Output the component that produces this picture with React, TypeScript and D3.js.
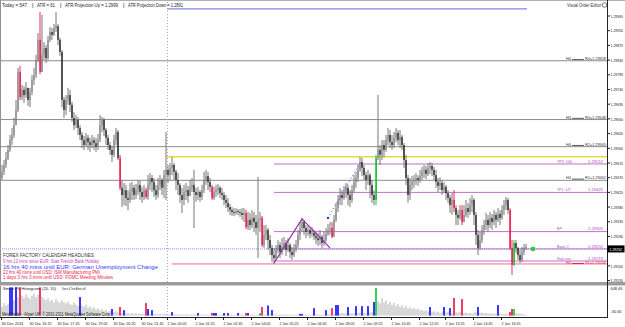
import React from "react";
import * as d3 from "d3";

// ---------- DATA (prices in points above 1.29000) ----------
const highs = [
  509,524,549,570,601,622,653,708,806,812,
  754,751,763,745,745,784,806,846,913,977,
  968,885,876,904,931,928,941,977,941,898,
  861,717,723,745,739,702,671,662,656,631,
  610,598,607,601,592,601,595,592,604,662,
  656,653,622,601,579,567,601,622,616,540,
  463,454,448,432,454,457,448,451,463,460,
  442,448,439,478,484,478,469,448,469,478,
  469,494,610,509,515,533,515,494,484,454,
  439,448,454,445,463,469,494,439,442,432,
  448,488,494,488,469,448,442,448,451,445,
  439,426,417,408,390,380,377,377,374,374,
  377,377,371,365,362,371,365,356,472,365,
  353,325,325,316,295,264,255,264,279,273,
  285,289,279,285,270,258,267,279,310,334,
  347,341,325,322,316,319,310,304,301,310,
  295,304,316,328,334,334,356,393,417,439,
  432,445,454,448,432,448,478,488,509,533,
  530,509,488,494,484,463,432,540,723,570,
  585,585,601,622,616,601,610,622,616,616,
  601,576,540,478,469,475,478,484,478,494,
  503,509,506,515,518,515,503,494,469,472,
  463,457,448,432,417,423,432,386,371,386,
  386,386,402,393,408,417,408,365,310,304,
  325,341,362,356,365,359,371,365,377,371,
  386,402,411,408,377,279,279,279,258,249,
  258,267,267
];
const lows = [
  463,478,500,524,549,570,592,631,671,708,
  708,699,714,690,686,723,754,775,824,787,
  794,830,821,830,885,892,904,916,876,843,
  686,653,662,693,671,641,616,622,601,585,
  561,555,567,555,549,561,555,549,555,579,
  610,598,570,555,540,518,533,570,524,432,
  380,386,383,371,393,402,402,405,417,402,
  393,402,405,402,432,426,411,402,408,432,
  417,408,402,454,463,478,463,432,417,393,
  362,386,402,393,417,426,316,396,402,396,
  402,423,448,432,426,402,402,411,417,408,
  402,386,377,365,356,353,353,356,356,350,
  341,334,313,310,310,316,304,295,224,304,
  258,255,279,249,233,212,206,218,240,224,
  233,249,230,243,224,218,227,243,255,279,
  304,295,285,292,285,289,279,267,261,264,
  255,261,273,292,295,285,292,334,365,386,
  386,402,408,386,380,393,423,439,457,488,
  475,463,432,448,408,393,386,386,524,509,
  524,533,549,570,561,555,561,579,570,561,
  555,500,448,393,402,432,439,448,445,454,
  463,469,466,475,481,475,463,439,426,432,
  417,423,402,393,362,356,365,325,325,341,
  325,334,350,347,356,365,325,264,233,249,
  270,295,310,304,316,310,325,316,334,325,
  341,356,371,359,249,172,200,240,218,209,
  212,233,249
];
const closes = [
  488,509,530,555,585,601,631,677,794,717,
  739,723,745,708,732,769,784,830,892,794,
  846,867,836,892,916,907,928,934,892,855,
  708,677,708,723,693,653,631,647,622,601,
  585,570,592,579,570,585,576,564,585,631,
  647,616,592,570,555,540,585,610,530,439,
  417,432,408,402,426,439,417,432,448,426,
  411,432,411,448,469,457,432,417,448,463,
  439,478,494,478,500,509,488,463,448,417,
  402,426,432,414,439,448,426,417,426,411,
  432,463,475,457,442,408,426,432,439,423,
  417,402,393,380,371,365,362,368,365,362,
  356,362,319,341,325,347,334,316,341,347,
  264,295,310,279,255,233,224,249,264,243,
  258,270,249,264,243,233,249,264,295,316,
  334,316,304,310,298,301,292,285,279,289,
  270,279,298,310,316,289,341,377,402,417,
  408,426,439,417,402,432,457,469,494,518,
  500,478,463,478,448,417,402,530,555,540,
  570,555,585,601,579,570,592,607,585,595,
  570,524,469,417,448,457,463,469,463,475,
  488,494,481,500,506,494,478,457,445,454,
  432,442,423,408,386,402,377,356,347,371,
  334,356,377,365,386,402,356,295,255,279,
  310,325,341,325,347,334,356,341,359,347,
  371,386,402,371,255,203,270,255,233,218,
  243,255,258
];
const firstOpen = 470;
const redCandles = [9, 19, 59, 72, 105, 122, 130, 165, 226, 230, 254, 255];
const greenCandles = [187, 256];

const volumes = [
  200,285,230,260,640,640,350,640,420,640,
  450,400,480,420,380,450,500,420,470,640,
  430,380,350,400,330,360,300,380,320,290,
  350,300,280,320,260,240,300,250,220,420,
  230,200,250,180,210,160,190,140,170,120,
  150,100,130,90,110,150,80,100,70,195,
  60,125,50,70,40,60,45,55,40,50,
  35,45,285,150,40,125,35,45,30,40,
  30,40,35,25,30,80,25,30,20,30,
  25,20,30,25,20,30,25,20,60,20,
  25,20,30,20,25,60,60,60,20,25,
  20,60,25,60,20,25,20,15,60,20,
  25,20,60,60,20,25,20,15,20,60,
  195,30,25,230,30,125,25,30,20,25,
  20,25,30,20,25,20,15,20,25,40,
  40,20,25,20,15,25,170,30,25,20,
  25,30,125,40,35,170,45,240,240,50,
  60,55,45,195,60,50,55,215,60,70,
  215,65,55,215,70,80,310,625,330,280,
  400,300,350,260,310,240,290,220,260,200,
  240,180,220,160,190,150,170,140,160,120,
  130,100,120,90,195,80,100,70,90,60,
  80,195,70,90,170,60,400,80,70,90,
  375,60,70,50,60,45,70,90,195,60,
  70,50,60,45,55,40,50,35,240,45,
  40,35,50,30,80,150,150,60,40,50,
  35,30,20
];
const histBlue = [4,5,7,39,55,61,73,75,85,98,106,107,111,113,118,123,133,135,149,150,156,162,167,168,173,177,180,183,186,214,221,224,238,248];
const histRed = [9, 19, 59, 72, 105, 122, 130, 165, 226, 230, 254, 255];
const histGreen = [129, 187, 256];

const priceTicks = [1.29965,1.2992,1.29875,1.2983,1.29785,1.2974,1.29695,1.2965,1.29605,1.2956,1.29515,1.2947,1.29425,1.2938,1.29335,1.2929,1.29245,1.292,1.29155];
const timeLabels = ["30 Dec 2011","30 Dec 16:25","30 Dec 17:45","30 Dec 19:05","30 Dec 20:25","30 Dec 21:45","2 Jan 00:05","2 Jan 01:25","2 Jan 02:45","2 Jan 04:05","2 Jan 05:25","2 Jan 06:45","2 Jan 08:05","2 Jan 09:25","2 Jan 10:45","2 Jan 12:05","2 Jan 13:25","2 Jan 14:45","2 Jan 16:05"];
const timeIdx = [0,14,28,42,56,70,83,97,111,125,139,153,167,181,195,209,222,236,250];

const pivotNames = ["R4", "R3", "R2", "R1"];
const pivotPrices = [1.29828, 1.29648, 1.29565, 1.29462];
const tradeNames = ["TP2: 100", "TP1: 127", "EP", "Base C", "Stop Loss"];
const tradePrices = [1.29512, 1.29425, 1.29305, 1.29252, 1.29215];
const s1Price = 1.29206;
const yellowPrice = 1.29534;
const atrUpPrice = 1.29987;
const bidPrice = 1.29252;
const zigzag: [number, number][] = [[136, 1.29209], [150, 1.29344], [164, 1.29255]];
const trendDots: [number, number][] = [[163, 1.29347], [179, 1.29515]];

const headerParts = ["Today = 547", "|", "ATR = 61", "|", "ATR Projection Up = 1.2999", "|", "ATR Projection Down = 1.2891"];
const ffLines = [
  "FOREX FACTORY CALENDAR HEADLINES:",
  "9 hrs 12 mins since EUR: Start French Bank Holiday",
  "16 hrs 40 mins until EUR: German Unemployment Change",
  "22 hrs 40 mins until USD: ISM Manufacturing PMI",
  "1 days 3 hrs 3 mins until USD: FOMC Meeting Minutes",
];
const volTop = 648.65;
const volBottom = -30.65;

// ---------- STYLE ----------
const FONT = "Liberation Sans, Arial, sans-serif";
const headerX = [2, 32, 37, 60, 65, 123, 128];
const headerLen = [25, 1.5, 18, 1.5, 53, 1.5, 55];
const ffColors = ["#333", "#c03cc8", "#3838ff", "#e8204f", "#e8204f"];
const ffLen = [92, 96, 155, 97, 110];
const ffY = [257, 263, 268.5, 273.5, 279];
const tradeNameLen = [15, 14, 5, 12, 14];

export default function App() {
  const N = closes.length;
  const x = d3.scaleLinear().domain([0, N - 1]).range([2, 2 + 2 * (N - 1)]);
  const y = d3.scaleLinear().domain([1.29155, 1.29965]).range([280.6, 16]);
  const vy = d3.scaleLinear().domain([volBottom, volTop]).range([317, 287]);
  const P = (v: number) => 1.29 + v / 1e5;
  const AX = 607.5;
  const fmt = d3.format(".5f");
  const redSet = new Set(redCandles);
  const greenSet = new Set(greenCandles);
  const blueH = new Set(histBlue);
  const redH = new Set(histRed);
  const greenH = new Set(histGreen);

  const candles = closes.map((c, i) => {
    const o = i === 0 ? firstOpen : closes[i - 1];
    return { i, o: P(o), c: P(c), h: P(Math.max(highs[i], o, c)), l: P(Math.min(lows[i], o, c)) };
  });

  const zz = d3.line<[number, number]>().x(d => x(d[0])).y(d => y(d[1]));
  const visibleTicks = priceTicks.filter(p => Math.abs(y(p) - y(bidPrice)) > 5);

  return (
    <svg width={625} height={327} style={{ position: "fixed", left: 0, top: 0, background: "#fff" }} fontFamily={FONT}>
      <rect x={0} y={0} width={625} height={327} fill="#fff" />
      {/* frame */}
      <line x1={0} x2={625} y1={0.5} y2={0.5} stroke="#b0b0b0" />
      <line x1={0.5} x2={0.5} y1={0} y2={317} stroke="#909090" />

      {/* pivot lines */}
      {pivotPrices.map((p, k) => (
        <line key={"pv" + k} x1={0} x2={AX} y1={y(p)} y2={y(p)} stroke="#8c8c8c" strokeWidth={1} />
      ))}
      {/* yellow */}
      <line x1={x(83) - 1} x2={AX} y1={y(yellowPrice)} y2={y(yellowPrice)} stroke="#e4dc3c" strokeWidth={1.6} />
      {/* trade levels */}
      {tradePrices.map((p, k) => (
        <line key={"tl" + k} x1={x(136)} x2={AX} y1={y(p)} y2={y(p)} stroke="#c070cc" strokeWidth={1} />
      ))}
      {/* S1 */}
      <line x1={x(85)} x2={AX} y1={y(s1Price)} y2={y(s1Price)} stroke="#f06a86" strokeWidth={1} />
      {/* ATR projection up */}
      <line x1={x(83) - 1} x2={x(N - 1) + 1} y1={y(atrUpPrice)} y2={y(atrUpPrice)} stroke="#8484e8" strokeWidth={1.2} />
      {/* bid dotted */}
      <line x1={0} x2={AX} y1={y(bidPrice)} y2={y(bidPrice)} stroke="#8c8ce0" strokeWidth={1} strokeDasharray="1,1" />
      {/* day separator */}
      <line x1={x(83) - 0.5} x2={x(83) - 0.5} y1={2} y2={317} stroke="#a8a8a8" strokeDasharray="1,2" />

      {/* candles */}
      {candles.map(d => {
        const red = redSet.has(d.i);
        const green = greenSet.has(d.i);
        const wick = red ? "#f0285a" : green ? "#22c43a" : "#767676";
        const bull = d.c >= d.o;
        const body = red ? "#f0285a" : green ? "#22c43a" : bull ? "#8a8a8a" : "#111";
        const cx = x(d.i);
        const y1 = Math.min(y(d.o), y(d.c));
        const y2 = Math.max(y(d.o), y(d.c));
        return (
          <g key={"c" + d.i}>
            <line x1={cx} x2={cx} y1={y(d.h)} y2={y(d.l)} stroke={wick} strokeWidth={1} />
            <rect x={cx - 0.6} y={y1} width={red || green ? 1.6 : 1.2} height={Math.max(1, y2 - y1)} fill={body} />
          </g>
        );
      })}

      {/* zigzag */}
      <path d={zz(zigzag) || ""} fill="none" stroke="#9a2aa8" strokeWidth={1.2} />
      <path d={zz(trendDots) || ""} fill="none" stroke="#4a4ae0" strokeWidth={1} strokeDasharray="1,2.5" />
      <circle cx={x(trendDots[0][0])} cy={y(trendDots[0][1])} r={1.2} fill="#3030e0" />

      {/* bid marker */}
      <rect x={x(N - 1) + 5} y={y(bidPrice) - 2} width={4} height={4} fill="#22cc44" />

      {/* pivot labels */}
      {pivotPrices.map((p, k) => (
        <g key={"pl" + k} fill="#333" fontSize={4.2}>
          <text x={566} y={y(p) - 1} textLength={5} lengthAdjust="spacingAndGlyphs">H4</text>
          <line x1={572} x2={584} y1={y(p) - 1.2} y2={y(p) - 1.2} stroke="#333" strokeWidth={0.8} />
          <text x={585} y={y(p) - 1} textLength={21} lengthAdjust="spacingAndGlyphs">{pivotNames[k] + "=" + fmt(p)}</text>
        </g>
      ))}
      {/* trade labels */}
      {tradePrices.map((p, k) => (
        <g key={"tt" + k} fill="#b040c0" fontSize={4}>
          <text x={557} y={y(p) - 1.2} textLength={tradeNameLen[k]} lengthAdjust="spacingAndGlyphs">{tradeNames[k]}</text>
          <text x={588} y={y(p) - 1.2} textLength={15} lengthAdjust="spacingAndGlyphs">{fmt(p)}</text>
        </g>
      ))}
      {/* S1 label */}
      <g fill="#e82040" fontSize={4}>
        <text x={566} y={y(s1Price) - 0.3} textLength={5} lengthAdjust="spacingAndGlyphs">H4</text>
        <line x1={572} x2={584} y1={y(s1Price) - 0.5} y2={y(s1Price) - 0.5} stroke="#e82040" strokeWidth={1} />
        <text x={585} y={y(s1Price) - 0.3} textLength={21} lengthAdjust="spacingAndGlyphs">{"S1=" + fmt(s1Price)}</text>
      </g>

      {/* header */}
      {headerParts.map((t, k) => (
        <text key={"h" + k} x={headerX[k]} y={7} fontSize={5.5} fill="#222" textLength={headerLen[k]} lengthAdjust="spacingAndGlyphs">{t}</text>
      ))}
      <text x={567} y={7} fontSize={5.5} fill="#333" textLength={34} lengthAdjust="spacingAndGlyphs">Visual Order Editor</text>
      <circle cx={604.5} cy={5} r={2.3} fill="none" stroke="#555" strokeWidth={0.8} />

      {/* FF headlines */}
      {ffLines.map((t, k) => (
        <text key={"ff" + k} x={3} y={ffY[k]} fontSize={5} fill={ffColors[k]} textLength={ffLen[k]} lengthAdjust="spacingAndGlyphs">{t}</text>
      ))}

      {/* panel separator */}
      <rect x={0} y={282} width={625} height={3} fill="#9c9c9c" />
      <line x1={0} x2={625} y1={285.5} y2={285.5} stroke="#d0d0d0" />

      {/* histogram */}
      {volumes.map((v, i) => {
        const col = blueH.has(i) ? "#2222ff" : redH.has(i) ? "#f0285a" : greenH.has(i) ? "#22cc44" : "#c8c8c8";
        const w = col === "#c8c8c8" ? 1.4 : 1.8;
        return <rect key={"v" + i} x={x(i) - w / 2} y={vy(v)} width={w} height={vy(0) - vy(v)} fill={col} />;
      })}
      <text x={3} y={289.5} fontSize={4} fill="#222" textLength={53} lengthAdjust="spacingAndGlyphs">Smart PV Histogram: (20, 10)</text>
      <text x={62} y={289.5} fontSize={4} fill="#222" textLength={24} lengthAdjust="spacingAndGlyphs">Voice &amp; Text Alerts off.</text>
      <text x={2} y={316} fontSize={5} fill="#222" textLength={109} lengthAdjust="spacingAndGlyphs">MetaTrader - Alpari UK, © 2001-2011 MetaQuotes Software Corp.</text>

      {/* axes */}
      <line x1={AX} x2={AX} y1={0} y2={318} stroke="#222" />
      <line x1={0} x2={AX} y1={317.5} y2={317.5} stroke="#222" />
      {visibleTicks.map((p, k) => (
        <g key={"pt" + k}>
          <line x1={AX} x2={AX + 2.5} y1={y(p)} y2={y(p)} stroke="#222" />
          <text x={610.5} y={y(p) + 1.6} fontSize={4.2} fill="#222" textLength={12.5} lengthAdjust="spacingAndGlyphs">{fmt(p)}</text>
        </g>
      ))}
      <rect x={AX} y={y(bidPrice) - 3.5} width={17} height={7} fill="#000" />
      <text x={609.5} y={y(bidPrice) + 1.6} fontSize={4.2} fill="#fff" textLength={12.5} lengthAdjust="spacingAndGlyphs">{fmt(bidPrice)}</text>
      <text x={610.5} y={289.5} fontSize={4.2} fill="#222" textLength={12} lengthAdjust="spacingAndGlyphs">{volTop.toFixed(2)}</text>
      <text x={610.5} y={313} fontSize={4.2} fill="#222" textLength={11} lengthAdjust="spacingAndGlyphs">{volBottom.toFixed(2)}</text>

      {timeIdx.map((ti, k) => (
        <g key={"tm" + k}>
          <line x1={x(ti) - 0.5} x2={x(ti) - 0.5} y1={317} y2={320} stroke="#222" />
          <text x={x(ti) - 0.5} y={325} fontSize={4} fill="#222" textLength={timeLabels[k].startsWith("30") ? 22 : 19} lengthAdjust="spacingAndGlyphs">{timeLabels[k]}</text>
        </g>
      ))}
    </svg>
  );
}
